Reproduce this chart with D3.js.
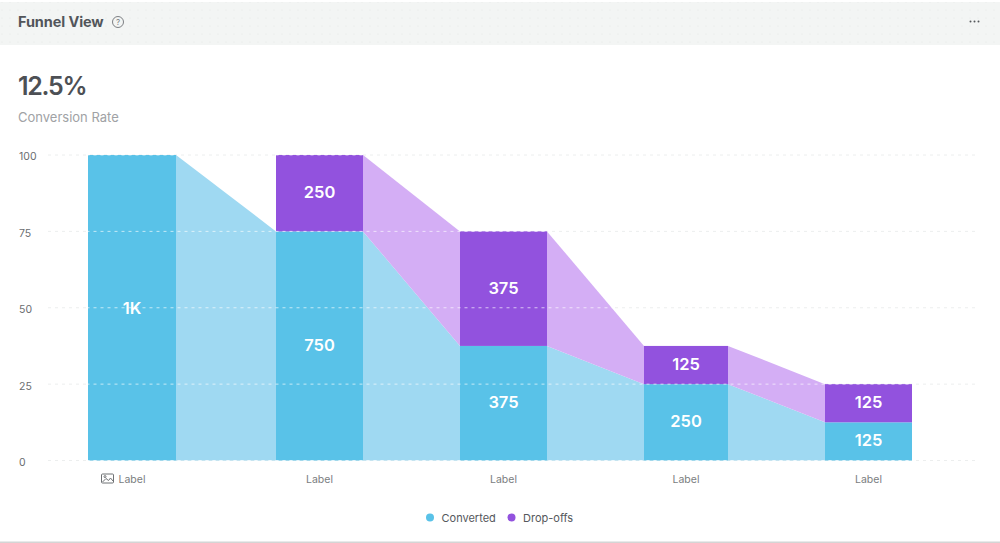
<!DOCTYPE html>
<html>
<head>
<meta charset="utf-8">
<title>Funnel View</title>
<script src="https://cdnjs.cloudflare.com/ajax/libs/d3/7.8.5/d3.min.js"></script>
<style>
  html, body { margin: 0; padding: 0; background: #fff; }
  svg { display: block; font-family: Inter, "Open Sans", sans-serif; }
</style>
</head>
<body>
<svg id="chart" width="1000" height="543"></svg>
<script>
const stages = [0, 1, 2, 3, 4];
const stageLabels = ['Label', 'Label', 'Label', 'Label', 'Label'];
const convertedPct = [100, 75, 37.5, 25, 12.5];
const dropoffPct = [0, 25, 37.5, 12.5, 12.5];
const convertedText = ['1K', '750', '375', '250', '125'];
const dropoffText = ['', '250', '375', '125', '125'];
const yTicks = [0, 25, 50, 75, 100];
const seriesNames = ['Converted', 'Drop-offs'];

const blue = '#59c2e8', blueLight = '#9fd9f2';
const purple = '#9252de', purpleLight = '#d4aef5';

const svg = d3.select('#chart');

// header band
const defs = svg.append('defs');
const dots = defs.append('pattern').attr('id', 'dots')
  .attr('width', 8).attr('height', 8).attr('patternUnits', 'userSpaceOnUse');
dots.append('circle').attr('cx', 2).attr('cy', 2).attr('r', 0.6).attr('fill', '#e2e5e4');
svg.append('rect').attr('x', 0).attr('y', 2).attr('width', 1000).attr('height', 43).attr('fill', '#f3f5f4');
svg.append('rect').attr('x', 0).attr('y', 2).attr('width', 1000).attr('height', 43).attr('fill', 'url(#dots)');
svg.append('text').attr('x', 18).attr('y', 27).attr('font-size', 14.5).attr('font-weight', 700)
  .attr('letter-spacing', -0.1).attr('fill', '#52555a').text('Funnel View');
svg.append('circle').attr('cx', 118).attr('cy', 22).attr('r', 5.5)
  .attr('fill', 'none').attr('stroke', '#7d8084').attr('stroke-width', 1);
svg.append('text').attr('x', 118).attr('y', 25).attr('text-anchor', 'middle').attr('font-size', 8)
  .attr('fill', '#7d8084').text('?');
svg.append('g').selectAll('circle').data([0, 1, 2]).join('circle')
  .attr('cx', d => 970.5 + d * 4).attr('cy', 21.5).attr('r', 1).attr('fill', '#55585c');

// big number
svg.append('text').attr('x', 18).attr('y', 95).attr('font-size', 25).attr('font-weight', 600)
  .attr('letter-spacing', -1.3).attr('fill', '#4d5055').text('12.5%');
svg.append('text').attr('x', 18).attr('y', 122).attr('font-size', 13)
  .attr('fill', '#a0a2a5').text('Conversion Rate');

// scales
const y = d3.scaleLinear().domain([0, 100]).range([460.5, 155]);
const xCenter = d3.scaleOrdinal().domain(stages).range([132, 319.5, 503.5, 686, 868.5]);
const barHalf = d3.scaleOrdinal().domain(stages).range([44, 43.5, 43.5, 42, 43.5]);
const left = i => xCenter(i) - barHalf(i);
const right = i => xCenter(i) + barHalf(i);

// grid under the marks
const grid = svg.append('g');
grid.selectAll('line').data(yTicks).join('line')
  .attr('x1', 48).attr('x2', 975)
  .attr('y1', d => y(d)).attr('y2', d => y(d))
  .attr('stroke', '#eceeee').attr('stroke-dasharray', '3 4');

// y axis, labels only
const yAxis = svg.append('g').attr('transform', 'translate(0,1.5)')
  .call(d3.axisLeft(y).tickValues(yTicks).tickSize(0).tickPadding(0));
yAxis.select('.domain').remove();
yAxis.selectAll('text').attr('x', 19).attr('dy', '0.32em').attr('text-anchor', 'start')
  .attr('font-size', 10.5).attr('font-family', 'Inter, sans-serif').attr('fill', '#6a6d70');

// ribbons between bars
const ribbon = d3.area().x(d => d.x).y0(d => d.y0).y1(d => d.y1);
const gaps = stages.slice(0, -1);
svg.append('g').selectAll('path').data(gaps).join('path')
  .attr('fill', blueLight)
  .attr('d', i => ribbon([
    { x: right(i), y0: y(0), y1: y(convertedPct[i]) },
    { x: left(i + 1), y0: y(0), y1: y(convertedPct[i + 1]) }
  ]));
svg.append('g').selectAll('path').data(gaps.filter(i => dropoffPct[i] > 0)).join('path')
  .attr('fill', purpleLight)
  .attr('d', i => ribbon([
    { x: right(i), y0: y(convertedPct[i]), y1: y(convertedPct[i] + dropoffPct[i]) },
    { x: left(i + 1), y0: y(convertedPct[i + 1]), y1: y(convertedPct[i + 1] + dropoffPct[i + 1]) }
  ]));

// stacked bars
svg.append('g').selectAll('rect').data(stages).join('rect')
  .attr('x', left).attr('width', i => right(i) - left(i))
  .attr('y', i => y(convertedPct[i]))
  .attr('height', i => y(0) - y(convertedPct[i]))
  .attr('fill', blue);
svg.append('g').selectAll('rect').data(stages.filter(i => dropoffPct[i] > 0)).join('rect')
  .attr('x', left).attr('width', i => right(i) - left(i))
  .attr('y', i => y(convertedPct[i] + dropoffPct[i]))
  .attr('height', i => y(convertedPct[i]) - y(convertedPct[i] + dropoffPct[i]))
  .attr('fill', purple);

// white dashes over the marks, offset so the grey ones still show on white
svg.append('g').selectAll('line').data(yTicks).join('line')
  .attr('x1', 48).attr('x2', 975)
  .attr('y1', d => y(d)).attr('y2', d => y(d))
  .attr('stroke', '#fff').attr('stroke-opacity', 0.65)
  .attr('stroke-dasharray', '3 4').attr('stroke-dashoffset', 3.5);

// value labels
const valueLabel = g => g.attr('text-anchor', 'middle').attr('font-size', 16.5)
  .attr('font-weight', 600).attr('fill', '#fff').attr('dy', '0.35em');
svg.append('g').selectAll('text').data(stages).join('text')
  .attr('x', xCenter)
  .attr('y', i => y(convertedPct[i] / 2) + (i === 0 ? 0 : -1.2))
  .text(i => convertedText[i])
  .call(valueLabel);
svg.append('g').selectAll('text').data(stages.filter(i => dropoffPct[i] > 0)).join('text')
  .attr('x', xCenter)
  .attr('y', i => y(convertedPct[i] + dropoffPct[i] / 2) - 0.8)
  .text(i => dropoffText[i])
  .call(valueLabel);

// x labels
svg.append('g').selectAll('text').data(stages).join('text')
  .attr('x', xCenter)
  .attr('y', 483)
  .attr('text-anchor', 'middle').attr('font-size', 10.5).attr('fill', '#7a7d80')
  .text(i => stageLabels[i]);

// small image icon next to first label
const icon = svg.append('g').attr('transform', 'translate(101.5,474)')
  .attr('fill', 'none').attr('stroke', '#6f7275').attr('stroke-width', 1);
icon.append('rect').attr('width', 12).attr('height', 9).attr('rx', 1);
icon.append('path').attr('d', 'M1 8 L4.5 4.5 L7 6.5 L9 4 L11.5 7');
icon.append('circle').attr('cx', 3.5).attr('cy', 2.6).attr('r', 1);

// legend
const legend = svg.append('g');
const legendX = d3.scaleOrdinal().domain(seriesNames).range([430, 511.5]);
const legendColor = d3.scaleOrdinal().domain(seriesNames).range([blue, purple]);
legend.selectAll('circle').data(seriesNames).join('circle')
  .attr('cx', legendX).attr('cy', 517.5).attr('r', 4).attr('fill', legendColor);
legend.selectAll('text').data(seriesNames).join('text')
  .attr('x', d => legendX(d) + 11.5).attr('y', 521.5)
  .attr('font-size', 11).attr('fill', '#55585c').text(d => d);

// bottom rule
svg.append('rect').attr('x', 0).attr('y', 541.5).attr('width', 1000).attr('height', 1.5).attr('fill', '#d4d5d5');
</script>
</body>
</html>
